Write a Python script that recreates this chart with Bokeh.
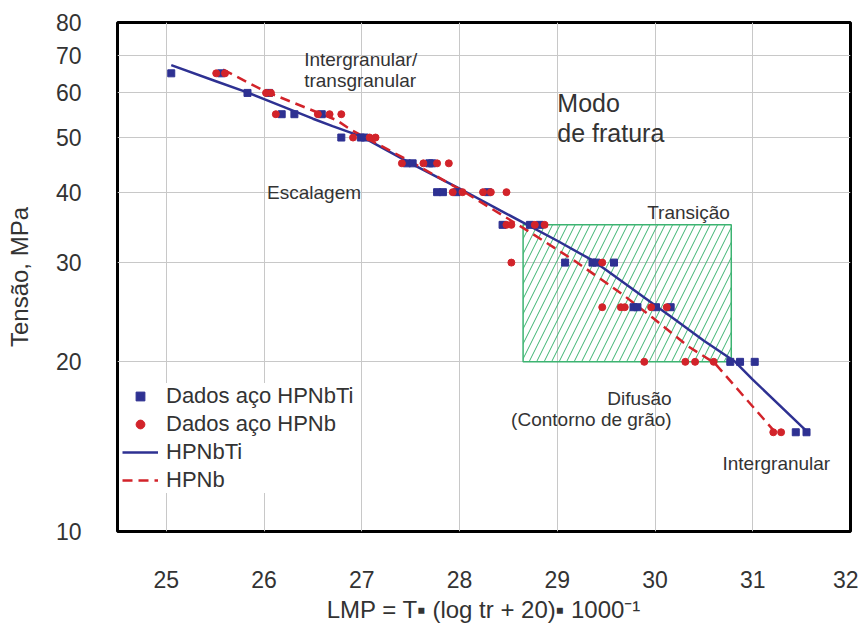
from bokeh.plotting import figure
from bokeh.models import Legend, LegendItem, Label, FixedTicker, Range1d, PrintfTickFormatter
from bokeh.embed import file_html
from bokeh.resources import INLINE

# ---------------- data ----------------
x_ticks = [25, 26, 27, 28, 29, 30, 31, 32]
y_ticks = [10, 20, 30, 40, 50, 60, 70, 80]

# measured points, steel HPNbTi (blue squares)
hpnbti_x = [25.05, 25.56, 25.83, 26.05, 26.18, 26.31, 26.59, 26.79, 26.99, 27.03,
            27.46, 27.52, 27.69, 27.72, 27.77, 27.83, 27.97, 28.29,
            28.44, 28.72, 28.82, 29.08, 29.36, 29.40, 29.58,
            29.78, 29.82, 30.01, 30.16, 30.77, 30.87, 31.02, 31.44, 31.55]
hpnbti_y = [65, 65, 60, 60, 55, 55, 55, 50, 50, 50,
            45, 45, 45, 45, 40, 40, 40, 40,
            35, 35, 35, 30, 30, 30, 30,
            25, 25, 25, 25, 20, 20, 20, 15, 15]

# measured points, steel HPNb (red circles)
hpnb_x = [25.51, 25.60, 26.02, 26.07, 26.12, 26.55, 26.67, 26.79, 26.91, 27.08, 27.14,
          27.41, 27.63, 27.77, 27.89, 27.93, 28.03, 28.24, 28.32, 28.48,
          28.48, 28.53, 28.77, 28.87, 28.53, 29.46,
          29.46, 29.65, 29.69, 29.96, 30.12, 29.89, 30.31, 30.41, 30.60, 31.21, 31.29]
hpnb_y = [65, 65, 60, 60, 55, 55, 55, 55, 50, 50, 50,
          45, 45, 45, 45, 40, 40, 40, 40, 40,
          35, 35, 35, 35, 30, 30,
          25, 25, 25, 25, 25, 20, 20, 20, 20, 15, 15]

# fitted curves
fit_hpnbti_x = [25.05, 25.5, 25.82, 26.0, 26.5, 26.7, 27.0, 27.5, 28.0, 28.42, 29.0,
                29.37, 29.5, 30.0, 30.2, 30.5, 30.82, 31.0, 31.58]
fit_hpnbti_y = [67.2, 63.0, 60.2, 58.5, 54.0, 52.4, 50.2, 45.0, 40.6, 37.1, 32.8,
                30.2, 29.1, 25.2, 23.8, 21.8, 20.0, 18.6, 14.9]
fit_hpnb_x = [25.58, 26.0, 26.74, 26.89, 27.5, 28.02, 28.67, 29.18, 29.66, 29.97,
              30.34, 30.61, 31.23]
fit_hpnb_y = [66.0, 60.5, 53.7, 51.6, 45.3, 40.3, 34.4, 30.2, 26.4, 24.0,
              21.3, 19.9, 15.0]

# transition region
transition_x = [28.65, 30.78]
transition_y = [20, 35]

BLUE = "#2e3192"
RED = "#d2232a"
GREEN = "#3cb371"
TXT = "#333333"
FONT = "Liberation Sans"

p = figure(width=858, height=628, output_backend="svg", toolbar_location=None,
           x_range=Range1d(24.5, 32), y_range=Range1d(10, 80), y_axis_type="log",
           min_border_left=117, min_border_right=8, min_border_top=22, min_border_bottom=97)

p.outline_line_color = "black"
p.outline_line_width = 3
p.background_fill_color = "white"

# axes
for ax in (p.xaxis[0], p.yaxis[0]):
    ax.axis_line_color = None
    ax.major_tick_line_color = None
    ax.minor_tick_line_color = None
    ax.major_label_text_font = FONT
    ax.major_label_text_font_size = "23px"
    ax.major_label_text_color = TXT
    ax.axis_label_text_font = FONT
    ax.axis_label_text_font_style = "normal"
    ax.axis_label_text_color = TXT

p.xaxis.ticker = FixedTicker(ticks=x_ticks)
p.yaxis.ticker = FixedTicker(ticks=y_ticks)
p.yaxis.formatter = PrintfTickFormatter(format="%d")
p.xaxis.major_label_standoff = 33
p.yaxis.major_label_standoff = 30
p.xaxis.axis_label = "LMP = T\u25aa (log tr + 20)\u25aa 1000\u207b\u00b9"
p.xaxis.axis_label_standoff = 5
p.xaxis.axis_label_text_font_size = "24px"
p.yaxis.axis_label = "Tensão, MPa"
p.yaxis.axis_label_standoff = 20
p.yaxis.axis_label_text_font_size = "24px"

p.grid.grid_line_color = "#c8c8c8"
p.grid.grid_line_width = 1
p.ygrid.minor_grid_line_color = None

# hatched transition box
p.quad(left=[transition_x[0]], right=[transition_x[1]], bottom=[transition_y[0]], top=[transition_y[1]],
       fill_alpha=0, line_color=GREEN, line_width=1.5,
       hatch_pattern="/", hatch_color=GREEN, hatch_scale=15, hatch_weight=1)

r_line_ti = p.line(fit_hpnbti_x, fit_hpnbti_y, line_color=BLUE, line_width=2.5)
r_line_nb = p.line(fit_hpnb_x, fit_hpnb_y, line_color=RED, line_width=2.5, line_dash="10 6")
r_pts_ti = p.scatter(hpnbti_x, hpnbti_y, marker="square", size=7, fill_color=BLUE, line_color=BLUE)
r_pts_nb = p.scatter(hpnb_x, hpnb_y, marker="circle", size=7, fill_color=RED, line_color=RED)

# annotations
def lab(x, y, t, size="19px", align="left"):
    p.add_layout(Label(x=x, y=y, text=t, text_font=FONT, text_font_size=size,
                       text_color=TXT, text_align=align, text_baseline="middle"))

lab(26.41, 68.7, "Intergranular/")
lab(26.41, 63.0, "transgranular")
lab(29.0, 57.6, "Modo", "25px")
lab(29.0, 50.9, "de fratura", "25px")
lab(26.03, 40.0, "Escalagem")
lab(29.92, 36.8, "Transição")
lab(30.17, 17.2, "Difusão", align="right")
lab(30.17, 15.8, "(Contorno de grão)", align="right")
lab(30.69, 13.2, "Intergranular")

legend = Legend(items=[
    LegendItem(label="Dados aço HPNbTi", renderers=[r_pts_ti]),
    LegendItem(label="Dados aço HPNb", renderers=[r_pts_nb]),
    LegendItem(label="HPNbTi", renderers=[r_line_ti]),
    LegendItem(label="HPNb", renderers=[r_line_nb]),
], location=(5, 38))
legend.label_text_font = FONT
legend.label_text_font_size = "22px"
legend.label_text_color = TXT
legend.border_line_color = None
legend.background_fill_color = "white"
legend.background_fill_alpha = 1
legend.glyph_width = 36
legend.glyph_height = 22
legend.label_height = 22
legend.label_standoff = 8
legend.spacing = 2
legend.padding = 5
legend.margin = 0
p.add_layout(legend, "center")

open("out.html", "w").write(file_html(p, INLINE))
